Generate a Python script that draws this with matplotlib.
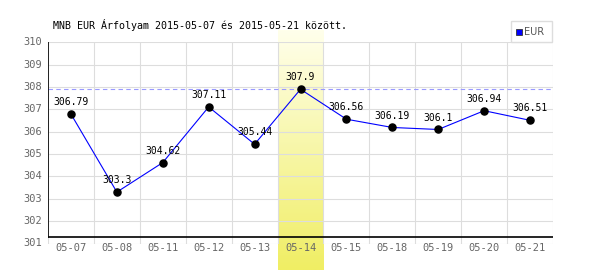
import numpy as np
import matplotlib
matplotlib.use("Agg")
import matplotlib.pyplot as plt
from matplotlib.patches import Rectangle

dates = ["05-07", "05-08", "05-11", "05-12", "05-13", "05-14",
         "05-15", "05-18", "05-19", "05-20", "05-21"]
rates = [306.79, 303.3, 304.62, 307.11, 305.44, 307.9,
         306.56, 306.19, 306.1, 306.94, 306.51]
labels = ["306.79", "303.3", "304.62", "307.11", "305.44", "307.9",
          "306.56", "306.19", "306.1", "306.94", "306.51"]
yticks = [301, 302, 303, 304, 305, 306, 307, 308, 309, 310]
highlight = 5

mono = "DejaVu Sans Mono"
fig = plt.figure(figsize=(6, 2.7), dpi=100)
ax = fig.add_axes([48/600, (270-243.5)/270, 505/600, 201.2/270])
ymin, ymax = 301, 310
n = len(dates)
x = np.arange(n)

# yellow gradient column behind the highlighted day (runs off the bottom)
px_per = 201.2 / 9
top_val = ymax + (42.3 - 30) / px_per
bot_val = ymin - (270 - 243.5) / px_per
grad = np.linspace(0, 1, 100).reshape(-1, 1)
c_top = np.array([255, 255, 235]) / 255
c_bot = np.array([240, 238, 100]) / 255
img = c_top + grad[..., None] * (c_bot - c_top)
ax.imshow(img, extent=[highlight-0.5, highlight+0.5, bot_val, top_val],
          aspect="auto", origin="upper", clip_on=False, zorder=0)

# grid
for v in yticks:
    ax.plot([-0.5, n-0.5], [v, v], color="#dddddd", lw=0.8, zorder=1)
for b in np.arange(n+1) - 0.5:
    ax.plot([b, b], [ymin, ymax], color="#dddddd", lw=0.8, zorder=1)

axis_y = ymin + 0.27
ax.plot([-0.5, -0.5], [axis_y, ymax], color="black", lw=1.2, zorder=3)
ax.plot([-0.5, n-0.5], [axis_y, axis_y], color="black", lw=1.2, zorder=3)

# max line
ax.axhline(max(rates), color="#9999ff", lw=0.8, ls=(0, (4, 3)), zorder=2)

ax.plot(x, rates, color="#0000ff", lw=0.8, zorder=4)
ax.scatter(x, rates, s=26, color="black", zorder=5)
for xi, v, t in zip(x, rates, labels):
    ax.annotate(t, (xi, v), xytext=(0, 5), textcoords="offset points",
                ha="center", va="bottom", fontsize=7, family=mono, zorder=6)

for v in yticks:
    ax.text(-0.62, v, str(v), ha="right", va="center",
            fontsize=7.5, family=mono, color="#666666")
for xi, d in zip(x, dates):
    ax.text(xi, ymin - 0.2, d, ha="center", va="center",
            fontsize=7.5, family=mono, color="#666666")

ax.set_xlim(-0.5, n-0.5)
ax.set_ylim(ymin, ymax)
ax.axis("off")

fig.text(53/600, 1 - 25/270, "MNB EUR Árfolyam 2015-05-07 és 2015-05-21 között.",
         ha="left", va="center", fontsize=7.2, family=mono)

# legend box
fig.patches.append(Rectangle((511/600, 1 - 42/270), 41/600, 21/270,
                             transform=fig.transFigure, facecolor="white",
                             edgecolor="#dddddd", lw=1, zorder=10))
fig.patches.append(Rectangle((516/600, 1 - 35/270), 6/600, 6/270,
                             transform=fig.transFigure, facecolor="#0000ff",
                             edgecolor="#333333", lw=0.6, zorder=11))
fig.text(524/600, 1 - 32/270, "EUR", ha="left", va="center",
         fontsize=7, color="#555555", zorder=12)

fig.savefig("out.png", dpi=100)
